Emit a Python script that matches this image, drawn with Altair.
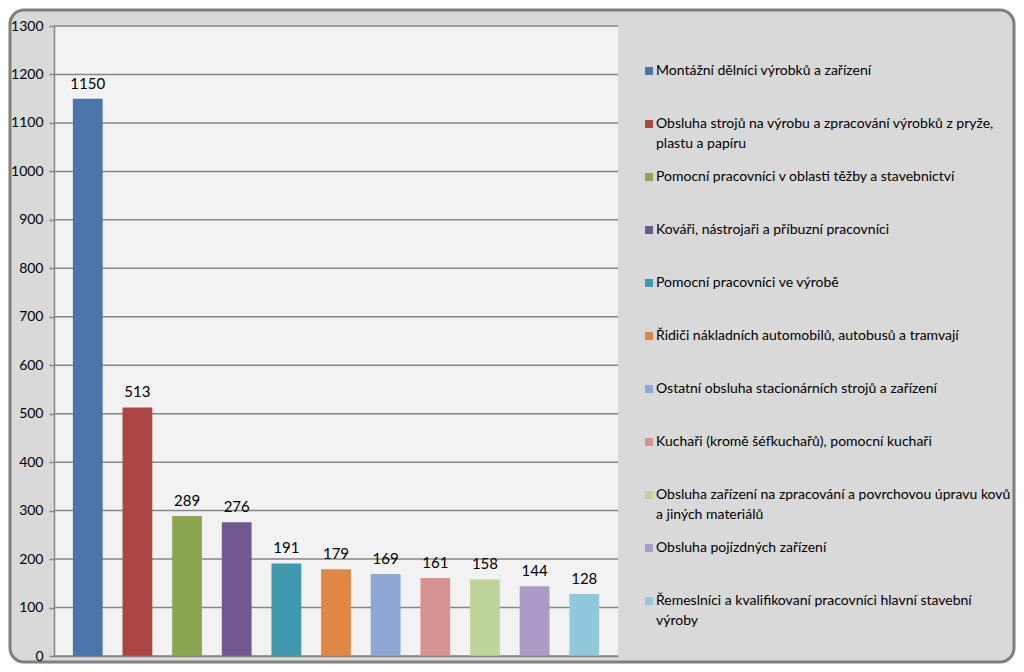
import altair as alt
import pandas as pd

categories = [
    "Montážní dělníci výrobků a zařízení",
    "Obsluha strojů na výrobu a zpracování výrobků z pryže,\nplastu a papíru",
    "Pomocní pracovníci v oblasti těžby a stavebnictví",
    "Kováři, nástrojaři a příbuzní pracovníci",
    "Pomocní pracovníci ve výrobě",
    "Řidiči nákladních automobilů, autobusů a tramvají",
    "Ostatní obsluha stacionárních strojů a zařízení",
    "Kuchaři (kromě šéfkuchařů), pomocní kuchaři",
    "Obsluha zařízení na zpracování a povrchovou úpravu kovů\na jiných materiálů",
    "Obsluha pojízdných zařízení",
    "Řemeslníci a kvalifikovaní pracovníci hlavní stavební\nvýroby",
]
values = [1150, 513, 289, 276, 191, 179, 169, 161, 158, 144, 128]
colors = ["#4a74aa", "#ac4544", "#8ca64f", "#715890", "#3f98ad", "#e08745",
          "#8ea8d6", "#d79391", "#bed49a", "#ab9bc6", "#92c8db"]
y_ticks = list(range(0, 1301, 100))

W, H = 564, 630
FONT = "Lato"

df = pd.DataFrame({
    "cat": categories,
    "value": values,
    "line1": [c.split("\n")[0] for c in categories],
    "line2": [c.split("\n")[1] if "\n" in c else "" for c in categories],
})
grid_df = pd.DataFrame({"v": y_ticks})
one = pd.DataFrame({"a": [0]})

color = alt.Color("cat:N", scale=alt.Scale(domain=categories, range=colors), legend=None)
yq = alt.Scale(domain=[0, 1300], nice=False)
xs = alt.X("cat:N", sort=categories, axis=alt.Axis(labels=False, ticks=False, title=None,
           domainColor="#868686", domainWidth=1.5, zindex=1),
           scale=alt.Scale(paddingInner=0.4, paddingOuter=0.38))

frame = alt.Chart(one).mark_rect(fill="#d9d9d9", stroke="#7f7f7f", strokeWidth=3,
                                 cornerRadius=14).encode(
    x=alt.value(-44), x2=alt.value(960), y=alt.value(-16), y2=alt.value(636))

plotbg = alt.Chart(one).mark_rect(fill="#f2f2f2").encode(
    x=alt.value(0), x2=alt.value(W), y=alt.value(0), y2=alt.value(H))

grid = alt.Chart(grid_df).mark_rule(color="#868686", strokeWidth=1.5).encode(
    y=alt.Y("v:Q", scale=yq, axis=None),
    x=alt.value(0), x2=alt.value(W))

bars = alt.Chart(df).mark_bar().encode(
    x=xs,
    y=alt.Y("value:Q", scale=yq,
            axis=alt.Axis(values=y_ticks, format="d", grid=False, title=None, tickSize=5,
                          tickColor="#868686", tickWidth=1.5, domainColor="#868686",
                          domainWidth=1.5, labelFont=FONT, labelFontSize=14,
                          labelColor="#000000", labelPadding=6, zindex=1)),
    color=color)

labels = alt.Chart(df).mark_text(font=FONT, fontSize=15, color="#000000",
                                 baseline="bottom", dy=-7).encode(
    x=alt.X("cat:N", sort=categories), y=alt.Y("value:Q", scale=yq, axis=None),
    text="value:Q")

ly = alt.Y("cat:N", sort=categories, axis=None,
           scale=alt.Scale(type="point", domain=categories, range=[45, 575], padding=0))

leg_sq = alt.Chart(df).mark_square(size=64, opacity=1).encode(
    x=alt.value(595), y=ly, color=color)
leg_t1 = alt.Chart(df).mark_text(font=FONT, fontSize=14, align="left", baseline="middle",
                                 color="#000000").encode(
    x=alt.value(602), y=ly, text="line1:N")
leg_t2 = alt.Chart(df).mark_text(font=FONT, fontSize=14, align="left", baseline="middle",
                                 color="#000000", dy=20).encode(
    x=alt.value(602), y=ly, text="line2:N")

chart = alt.layer(frame, plotbg, grid, bars, labels, leg_sq, leg_t1, leg_t2).resolve_scale(
    y="independent"
).properties(
    width=W, height=H, padding=0, background="transparent"
).configure_view(stroke="transparent")

chart.save("out.html", embed_options={"renderer": "svg", "actions": False})
